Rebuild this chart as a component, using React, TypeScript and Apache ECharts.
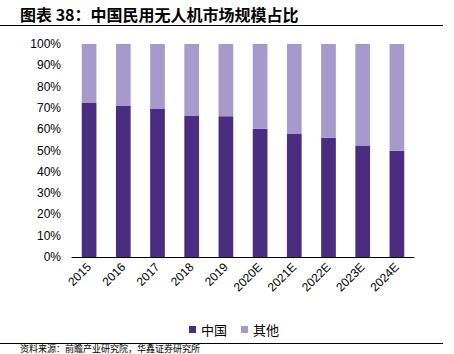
import React, { useEffect, useRef } from "react";
import * as echarts from "echarts";

const categories = ["2015", "2016", "2017", "2018", "2019", "2020E", "2021E", "2022E", "2023E", "2024E"];
const chinaShare = [72.3, 70.9, 69.5, 66.2, 66.1, 60.2, 57.7, 56.0, 52.3, 49.9];
const otherShare = [27.7, 29.1, 30.5, 33.8, 33.9, 39.8, 42.3, 44.0, 47.7, 50.1];
const seriesNames = ["中国", "其他"];
const titleText = "图表 38：中国民用无人机市场规模占比";
const sourceText = "资料来源：前瞻产业研究院，华鑫证券研究所";

export default function App() {
  const ref = useRef<HTMLDivElement>(null);
  useEffect(() => {
    document.body.style.margin = "0";
    const chart = echarts.init(ref.current!, null, { renderer: "svg" });
    const font = "Arial, 'Liberation Sans', 'Noto Sans CJK SC', sans-serif";
    chart.setOption({
      animation: false,
      backgroundColor: "#ffffff",
      graphic: [
        {
          type: "text",
          left: 20,
          top: 6,
          style: {
            text: titleText,
            font: "bold 16px 'Noto Sans CJK SC', sans-serif",
            fill: "#000",
          },
        },
        { type: "line", shape: { x1: 0, y1: 25.5, x2: 443, y2: 25.5 }, style: { stroke: "#000", lineWidth: 1 } },
        { type: "line", shape: { x1: 0, y1: 343.5, x2: 443, y2: 343.5 }, style: { stroke: "#000", lineWidth: 1 } },
        {
          type: "text",
          left: 20,
          top: 344,
          style: { text: sourceText, font: "9px 'Noto Sans CJK SC', sans-serif", fill: "#000" },
        },
      ],
      legend: {
        left: 184,
        top: 318,
        icon: "rect",
        itemWidth: 7,
        itemHeight: 7,
        itemGap: 14,
        data: seriesNames,
        textStyle: { fontSize: 13, color: "#000", fontFamily: "'Noto Sans CJK SC', sans-serif" },
      },
      grid: { left: 72, right: 40, top: 44, bottom: 97 },
      xAxis: {
        type: "category",
        data: categories,
        axisLine: { lineStyle: { color: "#000", width: 1 } },
        axisTick: { inside: true, length: 4, alignWithLabel: false, lineStyle: { color: "#000" } },
        axisLabel: { rotate: 45, margin: 8, fontSize: 12, color: "#000", fontFamily: font, interval: 0 },
      },
      yAxis: {
        type: "value",
        min: 0,
        max: 100,
        interval: 10,
        axisLine: { show: false },
        axisTick: { show: false },
        splitLine: { show: false },
        axisLabel: { formatter: "{value}%", fontSize: 12, color: "#000", fontFamily: font, margin: 11 },
      },
      series: [
        {
          name: seriesNames[0],
          type: "bar",
          stack: "total",
          data: chinaShare,
          barWidth: "43%",
          itemStyle: { color: "#4a2d80" },
        },
        {
          name: seriesNames[1],
          type: "bar",
          stack: "total",
          data: otherShare,
          barWidth: "43%",
          itemStyle: { color: "#a899cd" },
        },
      ],
    });
    return () => chart.dispose();
  }, []);
  return <div ref={ref} style={{ width: 454, height: 354 }} />;
}
